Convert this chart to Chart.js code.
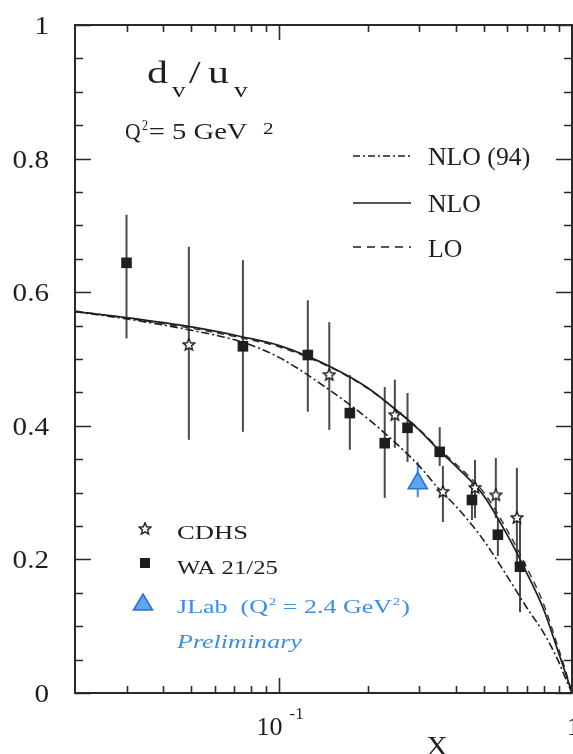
<!DOCTYPE html>
<html>
<head>
<meta charset="utf-8">
<script src="https://cdn.jsdelivr.net/npm/chart.js@4.4.1/dist/chart.umd.min.js"></script>
<style>
  html, body { margin: 0; padding: 0; background: #fff; overflow: hidden; width: 573px; height: 754px; }
  #wrap { position: absolute; left: 0; top: 0; width: 600px; height: 754px; }
</style>
</head>
<body>
<div id="wrap"><canvas id="c" width="600" height="754"></canvas></div>
<script>
// ---------- data ----------
const curveX   = [0.02, 0.03, 0.05, 0.075, 0.1, 0.15, 0.2, 0.25, 0.3, 0.35, 0.4, 0.45, 0.5, 0.6, 0.7, 0.8, 0.9, 0.95, 1.0];
const nlo      = [0.571, 0.562, 0.548, 0.533, 0.520, 0.488, 0.457, 0.424, 0.394, 0.364, 0.340, 0.318, 0.295, 0.237, 0.180, 0.125, 0.060, 0.030, 0.0];
const lo       = [0.572, 0.561, 0.546, 0.531, 0.518, 0.487, 0.456, 0.424, 0.395, 0.366, 0.343, 0.322, 0.300, 0.244, 0.188, 0.133, 0.066, 0.034, 0.0];
const nlo94    = [0.571, 0.560, 0.543, 0.525, 0.502, 0.452, 0.411, 0.374, 0.340, 0.306, 0.280, 0.254, 0.228, 0.175, 0.128, 0.090, 0.047, 0.022, 0.0];

const waX  = [0.030, 0.075, 0.125, 0.174, 0.229, 0.274, 0.353, 0.455, 0.558, 0.664];
const waY  = [0.644, 0.519, 0.506, 0.419, 0.374, 0.397, 0.361, 0.289, 0.237, 0.189];
const waLo = [0.531, 0.391, 0.421, 0.364, 0.292, 0.346, 0.340, 0.259, 0.205, 0.121];
const waHi = [0.716, 0.648, 0.588, 0.476, 0.458, 0.449, 0.398, 0.314, 0.262, 0.262];

const cdhsX  = [0.049, 0.148, 0.248, 0.362, 0.466, 0.549, 0.648];
const cdhsY  = [0.521, 0.476, 0.416, 0.301, 0.307, 0.296, 0.262];
const cdhsLo = [0.379, 0.394, 0.367, 0.256, 0.262, 0.262, 0.190];
const cdhsHi = [0.668, 0.555, 0.469, 0.340, 0.349, 0.352, 0.337];

const jlabX  = [0.297];
const jlabY  = [0.314];
const jlabLo = [0.293];
const jlabHi = [0.346];

const yTickValues = [0, 0.2, 0.4, 0.6, 0.8, 1];
const yTickLabels = ['0', '0.2', '0.4', '0.6', '0.8', '1'];
const yMinorValues = [0.05,0.1,0.15,0.25,0.3,0.35,0.45,0.5,0.55,0.65,0.7,0.75,0.85,0.9,0.95];
const xMajorValues = [0.1, 1];
const xMinorValues = [0.03,0.04,0.05,0.06,0.07,0.08,0.09,0.2,0.3,0.4,0.5,0.6,0.7,0.8,0.9];

// ---------- helpers ----------
const INK = '#1e1e1e';
const BLUE = '#3b8ee6';
const SERIF = '"Liberation Serif", "Times New Roman", serif';

function pairs(xs, ys) { return xs.map((x, i) => ({ x: x, y: ys[i] })); }

function makeStar(size, r) {
  const c = document.createElement('canvas');
  c.width = size; c.height = size;
  const g = c.getContext('2d');
  const cx = size / 2, cy = size / 2;
  g.beginPath();
  for (let i = 0; i < 10; i++) {
    const rr = (i % 2 === 0) ? r : r * 0.45;
    const a = -Math.PI / 2 + i * Math.PI / 5;
    const px = cx + rr * Math.cos(a), py = cy + rr * Math.sin(a);
    if (i === 0) g.moveTo(px, py); else g.lineTo(px, py);
  }
  g.closePath();
  g.fillStyle = '#fff';
  g.fill();
  g.lineWidth = 1.4;
  g.strokeStyle = INK;
  g.stroke();
  return c;
}
const starImg = makeStar(14, 6.2);

function txt(ctx, s, x, y, size, sx, color, align, style) {
  ctx.save();
  ctx.font = (style ? style + ' ' : '') + size + 'px ' + SERIF;
  ctx.fillStyle = color || INK;
  ctx.textBaseline = 'alphabetic';
  ctx.textAlign = 'left';
  const w = ctx.measureText(s).width * sx;
  let x0 = x;
  if (align === 'right') x0 = x - w;
  else if (align === 'center') x0 = x - w / 2;
  ctx.translate(x0, y);
  ctx.scale(sx, 1);
  ctx.fillText(s, 0, 0);
  ctx.restore();
  return x0 + w;
}
// draw text stretched horizontally to fill [x0, x1]
function fit(ctx, s, x0, x1, y, size, color) {
  ctx.save();
  ctx.font = size + 'px ' + SERIF;
  const m = ctx.measureText(s);
  const ink = (m.actualBoundingBoxRight + m.actualBoundingBoxLeft) || m.width;
  const sx = (x1 - x0) / ink;
  ctx.fillStyle = color || INK;
  ctx.textAlign = 'left';
  ctx.textBaseline = 'alphabetic';
  ctx.translate(x0 + (m.actualBoundingBoxLeft || 0) * sx, y);
  ctx.scale(sx, 1);
  ctx.fillText(s, 0, 0);
  ctx.restore();
}

// ---------- custom drawing plugin ----------
const decor = {
  id: 'decor',
  beforeDatasetsDraw(chart) {
    const ctx = chart.ctx, xs = chart.scales.x, ys = chart.scales.y;
    function bars(X, lo, hi, color) {
      ctx.save();
      ctx.strokeStyle = color; ctx.lineWidth = 2;
      X.forEach((x, i) => {
        const px = xs.getPixelForValue(x);
        ctx.beginPath();
        ctx.moveTo(px, ys.getPixelForValue(lo[i]));
        ctx.lineTo(px, ys.getPixelForValue(hi[i]));
        ctx.stroke();
      });
      ctx.restore();
    }
    bars(waX, waLo, waHi, '#4a4a4a');
    bars(cdhsX, cdhsLo, cdhsHi, '#4a4a4a');
    bars(jlabX, jlabLo, jlabHi, BLUE);
  },
  afterDraw(chart) {
    const ctx = chart.ctx, xs = chart.scales.x, ys = chart.scales.y;
    const a = chart.chartArea;
    ctx.save();
    ctx.strokeStyle = '#2a2a2a';
    ctx.lineWidth = 2;
    ctx.strokeRect(a.left, a.top, a.right - a.left, a.bottom - a.top);
    ctx.lineWidth = 1.6;
    function vt(v, len) {
      const p = Math.round(xs.getPixelForValue(v)) + 0.5;
      ctx.beginPath();
      ctx.moveTo(p, a.bottom); ctx.lineTo(p, a.bottom - len);
      ctx.moveTo(p, a.top); ctx.lineTo(p, a.top + len);
      ctx.stroke();
    }
    function ht(v, len) {
      const p = Math.round(ys.getPixelForValue(v)) + 0.5;
      ctx.beginPath();
      ctx.moveTo(a.left, p); ctx.lineTo(a.left + len, p);
      ctx.moveTo(a.right, p); ctx.lineTo(a.right - len, p);
      ctx.stroke();
    }
    xMinorValues.forEach(v => vt(v, 7));
    xMajorValues.forEach(v => vt(v, 15));
    yMinorValues.forEach(v => ht(v, 8));
    yTickValues.forEach(v => ht(v, 16));
    ctx.restore();

    // y tick labels
    yTickValues.forEach((v, i) => {
      txt(ctx, yTickLabels[i], 49, ys.getPixelForValue(v) + 9, 26, 1.12, INK, 'right');
    });
    // x tick labels
    const p1 = xs.getPixelForValue(0.1);
    txt(ctx, '10', p1 + 3, 735, 26, 1.0, INK, 'right');
    txt(ctx, '-1', p1 + 10, 719, 17, 1.0, INK, 'left');
    txt(ctx, '1', xs.getPixelForValue(1) - 5, 735, 26, 1.0, INK, 'left');
    // axis title
    txt(ctx, 'X', 437, 755, 27, 1.1, INK, 'center');

    // panel title d_v / u_v
    txt(ctx, 'd', 147, 83, 31, 1.35, INK, 'left');
    txt(ctx, 'v', 172, 97, 21, 1.3, INK, 'left');
    txt(ctx, '/', 189, 83, 31, 1.35, INK, 'left');
    txt(ctx, 'u', 208, 83, 31, 1.35, INK, 'left');
    txt(ctx, 'v', 234, 97, 21, 1.3, INK, 'left');
    // Q^2 = 5 GeV ^2
    fit(ctx, 'Q', 125, 141, 139, 23);
    fit(ctx, '2', 142, 148, 130, 14);
    fit(ctx, '= 5 GeV', 150, 248, 139, 23);
    fit(ctx, '2', 263, 273, 134, 17);

    // top-right legend
    ctx.save();
    ctx.strokeStyle = INK; ctx.lineWidth = 1.6;
    const lx0 = 353, lx1 = 411;
    ctx.setLineDash([7, 3, 2, 3]);
    ctx.beginPath(); ctx.moveTo(lx0, 156); ctx.lineTo(lx1, 156); ctx.stroke();
    ctx.setLineDash([]);
    ctx.beginPath(); ctx.moveTo(lx0, 203); ctx.lineTo(lx1, 203); ctx.stroke();
    ctx.setLineDash([8, 6]);
    ctx.beginPath(); ctx.moveTo(lx0, 247); ctx.lineTo(lx1, 247); ctx.stroke();
    ctx.restore();
    txt(ctx, 'NLO (94)', 428, 165, 25, 1.03, INK, 'left');
    txt(ctx, 'NLO', 428, 212, 25, 1.03, INK, 'left');
    txt(ctx, 'LO', 428, 257, 25, 1.03, INK, 'left');

    // bottom-left legend
    ctx.drawImage(starImg, 145 - 7, 529 - 7);
    ctx.fillStyle = INK;
    ctx.fillRect(140, 558, 10, 10);
    ctx.save();
    ctx.beginPath();
    ctx.moveTo(143, 594); ctx.lineTo(152.5, 610); ctx.lineTo(133.5, 610); ctx.closePath();
    ctx.fillStyle = '#5aa6f2'; ctx.fill();
    ctx.strokeStyle = '#2f74c8'; ctx.lineWidth = 1.6; ctx.stroke();
    ctx.restore();
    txt(ctx, 'CDHS', 177, 539, 19, 1.4, INK, 'left');
    txt(ctx, 'WA 21/25', 177, 574, 19, 1.3, INK, 'left');
    let x = txt(ctx, 'JLab  (Q', 177, 613, 19, 1.37, BLUE, 'left');
    x = txt(ctx, '2', x + 1, 605, 11, 1.3, BLUE, 'left');
    x = txt(ctx, ' = 2.4 GeV', x, 613, 19, 1.37, BLUE, 'left');
    x = txt(ctx, '2', x + 1, 605, 11, 1.3, BLUE, 'left');
    txt(ctx, ')', x + 1, 613, 19, 1.37, BLUE, 'left');
    txt(ctx, 'Preliminary', 177, 648, 19, 1.37, BLUE, 'left', 'italic');
  }
};

new Chart(document.getElementById('c'), {
  type: 'scatter',
  data: {
    datasets: [
      { label: 'NLO (94)', data: pairs(curveX, nlo94), showLine: true, pointRadius: 0,
        borderColor: INK, borderWidth: 1.6, borderDash: [8, 3, 2, 3], cubicInterpolationMode: 'monotone', order: 3 },
      { label: 'NLO', data: pairs(curveX, nlo), showLine: true, pointRadius: 0,
        borderColor: INK, borderWidth: 1.7, cubicInterpolationMode: 'monotone', order: 3 },
      { label: 'LO', data: pairs(curveX, lo), showLine: true, pointRadius: 0,
        borderColor: '#333', borderWidth: 1.4, borderDash: [7, 5], cubicInterpolationMode: 'monotone', order: 3 },
      { label: 'CDHS', data: pairs(cdhsX, cdhsY), pointStyle: starImg, pointRadius: 7, order: 1 },
      { label: 'WA 21/25', data: pairs(waX, waY), pointStyle: 'rect', pointRadius: 7.5,
        backgroundColor: INK, borderColor: INK, borderWidth: 0, order: 1 },
      { label: 'JLab', data: pairs(jlabX, jlabY), pointStyle: 'triangle', pointRadius: 11,
        backgroundColor: '#5aa6f2', borderColor: '#2f74c8', borderWidth: 1.6, order: 0 }
    ]
  },
  options: {
    responsive: false,
    animation: false,
    devicePixelRatio: 1,
    layout: { padding: { top: 25, right: 28, left: 0, bottom: 0 } },
    plugins: { legend: { display: false }, tooltip: { enabled: false } },
    scales: {
      x: {
        type: 'logarithmic', min: 0.02, max: 1,
        ticks: { display: false }, grid: { display: false }, border: { display: false },
        afterFit: (s) => { s.height = 61; }
      },
      y: {
        type: 'linear', min: 0, max: 1,
        ticks: { display: false }, grid: { display: false }, border: { display: false },
        afterFit: (s) => { s.width = 75; }
      }
    }
  },
  plugins: [decor]
});
</script>
</body>
</html>
